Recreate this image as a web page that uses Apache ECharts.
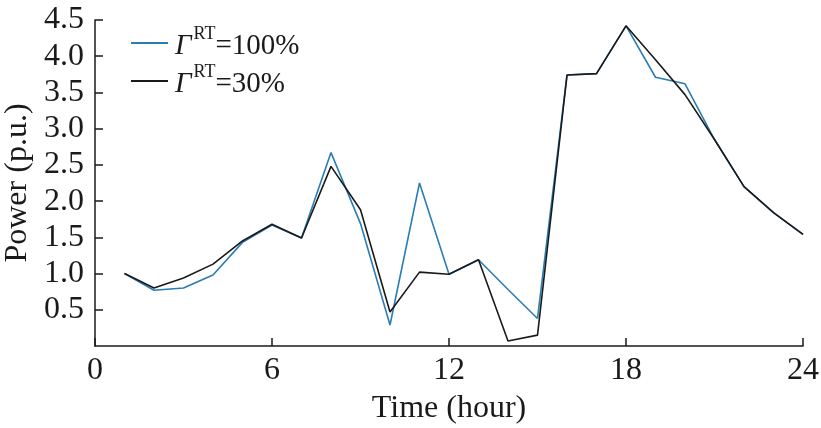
<!DOCTYPE html>
<html lang="en">
<head>
<meta charset="UTF-8">
<title></title>
<style>
    html, body { margin: 0; padding: 0; background: #fff; }
    #chart { width: 821px; height: 428px; }
</style>
</head>
<body>
<div id="chart"></div>
<script src="https://cdn.jsdelivr.net/npm/echarts@6/dist/echarts.min.js"></script>
<script>
    var hours = [1, 2, 3, 4, 5, 6, 7, 8, 9, 10, 11, 12, 13, 14, 15, 16, 17, 18, 19, 20, 21, 22, 23, 24];
    var gamma100 = [1.0, 0.77, 0.80, 0.98, 1.43, 1.67, 1.49, 2.67, 1.69, 0.29, 2.25, 0.99, 1.19, 0.78, 0.38, 3.74, 3.76, 4.42, 3.71, 3.62, 2.85, 2.20, 1.84, 1.54];
    var gamma30 = [1.0, 0.80, 0.94, 1.13, 1.45, 1.68, 1.49, 2.48, 1.88, 0.47, 1.02, 0.99, 1.19, 0.07, 0.15, 3.74, 3.76, 4.42, 3.95, 3.47, 2.85, 2.20, 1.84, 1.54];
    var xTicks = [0, 6, 12, 18, 24];

    var serif = "'Liberation Serif', 'Times New Roman', serif";
    var ink = '#1a1a1a';
    var myChart = echarts.init(document.getElementById('chart'));

    function pairs(ys) {
        return hours.map(function (h, i) { return [h, ys[i]]; });
    }

    var option = {
        animation: false,
        textStyle: { fontFamily: serif, color: ink },
        grid: { left: 95, right: 18, top: 20, bottom: 82, outerBoundsMode: 'none', containLabel: false },
        legend: {
            left: 126,
            top: 20,
            orient: 'vertical',
            icon: 'rect',
            itemWidth: 37,
            itemHeight: 2,
            itemGap: 2,
            data: ['g100', 'g30'],
            formatter: function (name) {
                return name === 'g100' ? '{g|Γ}{s|RT}{t|=100%}' : '{g|Γ}{s|RT}{t|=30%}';
            },
            textStyle: {
                fontFamily: serif,
                fontSize: 29,
                color: ink,
                padding: [0, 0, 0, 2],
                rich: {
                    g: { fontFamily: serif, fontStyle: 'italic', fontSize: 29, color: ink, lineHeight: 36, verticalAlign: 'bottom' },
                    s: { fontFamily: serif, fontSize: 18, color: ink, lineHeight: 36, verticalAlign: 'top', padding: [0, 0, 0, 2] },
                    t: { fontFamily: serif, fontSize: 29, color: ink, lineHeight: 36, verticalAlign: 'bottom' }
                }
            }
        },
        xAxis: {
            type: 'value',
            min: 0,
            max: 24,
            interval: 6,
            name: 'Time (hour)',
            nameLocation: 'middle',
            nameGap: 47,
            nameTextStyle: { fontFamily: serif, fontSize: 32, color: ink },
            axisLine: { lineStyle: { color: ink, width: 1.5 } },
            axisTick: { inside: true, length: 8, lineStyle: { color: ink, width: 1.5 } },
            axisLabel: { fontFamily: serif, fontSize: 32, color: ink, margin: 9 },
            splitLine: { show: false }
        },
        yAxis: {
            type: 'value',
            min: 0,
            max: 4.5,
            interval: 0.5,
            name: 'Power (p.u.)',
            nameLocation: 'middle',
            nameGap: 61,
            nameTextStyle: { fontFamily: serif, fontSize: 32, color: ink },
            axisLine: { show: true, lineStyle: { color: ink, width: 1.5 } },
            axisTick: { show: true, inside: true, length: 8, lineStyle: { color: ink, width: 1.5 } },
            axisLabel: {
                fontFamily: serif, fontSize: 32, color: ink, margin: 11,
                showMinLabel: false,
                formatter: function (v) { return v === 0 ? '' : v.toFixed(1); }
            },
            splitLine: { show: false }
        },
        series: [{
            name: 'g100',
            type: 'line',
            data: pairs(gamma100),
            symbol: 'none',
            lineStyle: { color: '#2a7db5', width: 1.6 },
            itemStyle: { color: '#2a7db5' }
        }, {
            name: 'g30',
            type: 'line',
            data: pairs(gamma30),
            symbol: 'none',
            lineStyle: { color: ink, width: 1.6 },
            itemStyle: { color: ink }
        }]
    };

    myChart.setOption(option);
</script>
</body>
</html>
